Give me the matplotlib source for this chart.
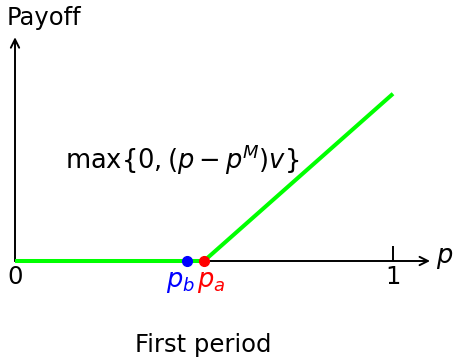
import matplotlib
matplotlib.use("Agg")
import matplotlib.pyplot as plt

plt.rcParams['mathtext.fontset'] = 'dejavusans'
plt.rcParams['font.family'] = ['DejaVu Sans']

# data
p_a = 0.50   # market price threshold p^M
p_b = 0.455
v = 0.885
x_max = 1.0
payoff_x = [0.0, p_a, x_max]
payoff_y = [max(0.0, (x - p_a) * v) for x in payoff_x]
tick_vals = [0, 1]
tick_labels = ["0", "1"]

scale = 378.0
W, H = 455, 357
ox, oy = 15, 261  # origin in pixels (from top-left)

fig = plt.figure(figsize=(W / 100, H / 100), dpi=100)
ax = fig.add_axes([0, 0, 1, 1])
ax.set_xlim(-ox / scale, (W - ox) / scale)
ax.set_ylim(-(H - oy) / scale, oy / scale)
ax.axis('off')

# axes arrows
ax.annotate('', xy=(1.098, 0), xytext=(0, 0),
            arrowprops=dict(arrowstyle='->', lw=1.4, color='black',
                            shrinkA=0, shrinkB=0, mutation_scale=15))
ax.annotate('', xy=(0, 0.592), xytext=(0, 0),
            arrowprops=dict(arrowstyle='->', lw=1.4, color='black',
                            shrinkA=0, shrinkB=0, mutation_scale=15))

# tick at 1
ax.plot([1, 1], [0, 15 / scale], color='black', lw=1.4, solid_capstyle='butt')

# payoff line
ax.plot(payoff_x, payoff_y, color='#00ff00', lw=2.9, solid_capstyle='butt', zorder=3)

# points
ax.plot([p_b], [0], 'o', color='blue', ms=7, zorder=4)
ax.plot([p_a], [0], 'o', color='red', ms=7, zorder=4)

fs = 17.5
fm = 18.5
for t, lab in zip(tick_vals, tick_labels):
    ax.text(t, -16 / scale, lab, ha='center', va='center', fontsize=fs)

ax.text(p_b - 0.016, -21 / scale, r'$p_b$', ha='center', va='center', fontsize=fm, color='blue')
ax.text(p_a + 0.018, -21 / scale, r'$p_a$', ha='center', va='center', fontsize=fm, color='red')

ax.text((445 - ox) / scale, 3 / scale, r'$p$', ha='center', va='center', fontsize=fm)
ax.text(-8 / scale, (oy - 18) / scale, 'Payoff', ha='left', va='center', fontsize=fs)
ax.text((182 - ox) / scale, (oy - 160) / scale, r'$\max\{0,(p-p^M)v\}$',
        ha='center', va='center', fontsize=fm)
ax.text((203 - ox) / scale, (oy - 345) / scale, 'First period',
        ha='center', va='center', fontsize=fs)

fig.savefig('out.png', dpi=100)
